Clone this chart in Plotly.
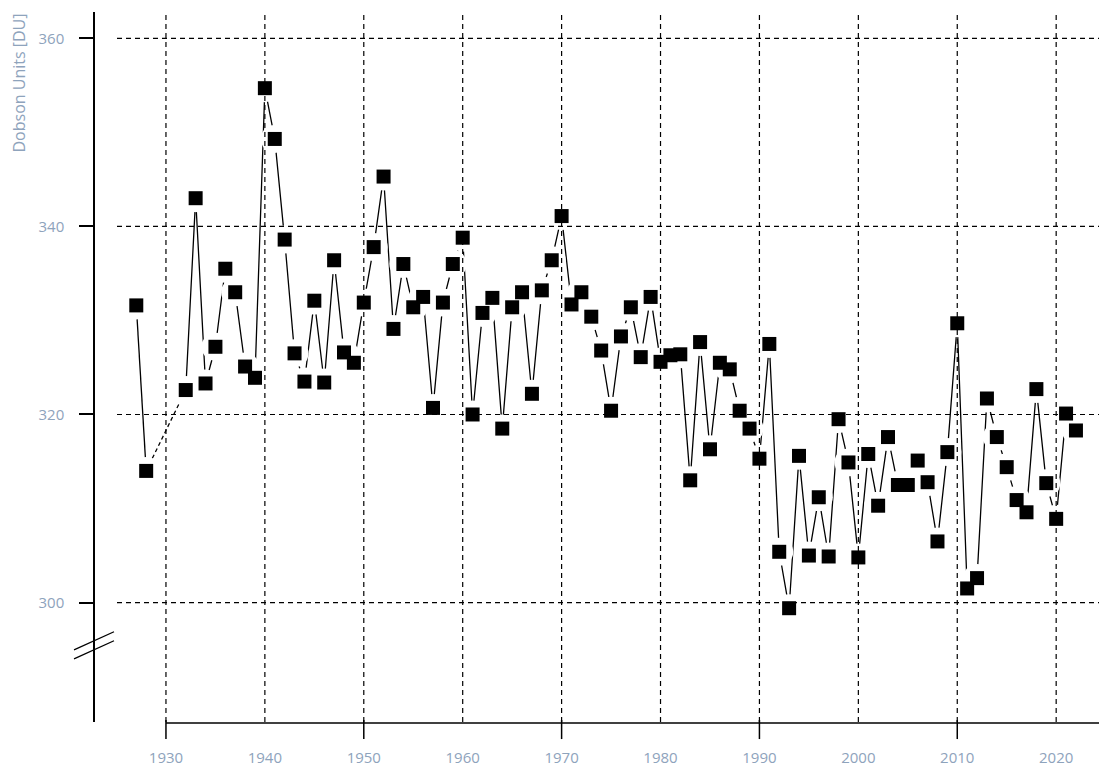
import plotly.graph_objects as go

# ---- data ----
years = [1927, 1928,
         1932, 1933, 1934, 1935, 1936, 1937, 1938, 1939,
         1940, 1941, 1942, 1943, 1944, 1945, 1946, 1947, 1948, 1949,
         1950, 1951, 1952, 1953, 1954, 1955, 1956, 1957, 1958, 1959,
         1960, 1961, 1962, 1963, 1964, 1965, 1966, 1967, 1968, 1969,
         1970, 1971, 1972, 1973, 1974, 1975, 1976, 1977, 1978, 1979,
         1980, 1981, 1982, 1983, 1984, 1985, 1986, 1987, 1988, 1989,
         1990, 1991, 1992, 1993, 1994, 1995, 1996, 1997, 1998, 1999,
         2000, 2001, 2002, 2003, 2004, 2005, 2006, 2007, 2008, 2009,
         2010, 2011, 2012, 2013, 2014, 2015, 2016, 2017, 2018, 2019,
         2020, 2021, 2022]
ozone = [331.6, 314.0,
         322.6, 343.0, 323.3, 327.2, 335.5, 333.0, 325.1, 323.9,
         354.7, 349.3, 338.6, 326.5, 323.5, 332.1, 323.4, 336.4, 326.6, 325.5,
         331.9, 337.8, 345.3, 329.1, 336.0, 331.4, 332.5, 320.7, 331.9, 336.0,
         338.8, 320.0, 330.8, 332.4, 318.5, 331.4, 333.0, 322.2, 333.2, 336.4,
         341.1, 331.7, 333.0, 330.4, 326.8, 320.4, 328.3, 331.4, 326.1, 332.5,
         325.6, 326.3, 326.4, 313.0, 327.7, 316.3, 325.5, 324.8, 320.4, 318.5,
         315.3, 327.5, 305.4, 299.4, 315.6, 305.0, 311.2, 304.9, 319.5, 314.9,
         304.8, 315.8, 310.3, 317.6, 312.5, 312.5, 315.1, 312.8, 306.5, 316.0,
         329.7, 301.5, 302.6, 321.7, 317.6, 314.4, 310.9, 309.6, 322.7, 312.7,
         308.9, 320.1, 318.3]

x_ticks = [1930, 1940, 1950, 1960, 1970, 1980, 1990, 2000, 2010, 2020]
x_tick_labels = [str(v) for v in x_ticks]
x_major_ticks = [1930, 1950, 1970, 1990, 2010]
y_ticks = [300, 320, 340, 360]
y_tick_labels = [str(v) for v in y_ticks]
y_title = "Dobson Units [DU]"

x_range = [1925.05, 2024.33]
y_range = [287.3, 362.8]

label_color = "#8ea3bc"
font_family = "Open Sans, Segoe UI, sans-serif"

# split into runs of consecutive years; dashed joins across missing years
solid_x, solid_y, gap_x, gap_y = [], [], [], []
for i, (yr, v) in enumerate(zip(years, ozone)):
    if i > 0 and yr - years[i - 1] > 1:
        solid_x.append(None)
        solid_y.append(None)
        gap_x += [years[i - 1], yr, None]
        gap_y += [ozone[i - 1], v, None]
    solid_x.append(yr)
    solid_y.append(v)

fig = go.Figure()
fig.add_trace(go.Scatter(x=solid_x, y=solid_y, mode="lines",
                         line=dict(color="black", width=1.3),
                         connectgaps=False, hoverinfo="skip", showlegend=False))
fig.add_trace(go.Scatter(x=gap_x, y=gap_y, mode="lines",
                         line=dict(color="black", width=1.3, dash="4px,3px"),
                         hoverinfo="skip", showlegend=False))
# white halos to open a gap between lines and points
fig.add_trace(go.Scatter(x=years, y=ozone, mode="markers",
                         marker=dict(symbol="circle", size=28, color="white",
                                     line=dict(width=0)),
                         hoverinfo="skip", showlegend=False))
fig.add_trace(go.Scatter(x=years, y=ozone, mode="markers",
                         marker=dict(symbol="square", size=14, color="black",
                                     line=dict(width=0)),
                         showlegend=False))

W, H = 1099, 767
ml = 80
plot_w = W - ml
K = 1.0072  # small vertical stretch


def vy(p):
    return 12 + (p - 12) * K


plot_top, plot_bot = 12, vy(720)
plot_h = plot_bot - plot_top
dom0 = (117 - ml) / plot_w
ypos = (94 - ml) / plot_w


def px_x(p):
    return (p - ml) / plot_w


def px_y(p):
    return (plot_bot - vy(p)) / plot_h


grid = dict(color="black", width=1.2, dash="5px,4px")
shapes = []
for xv in x_ticks:
    shapes.append(dict(type="line", xref="x", yref="y domain", x0=xv, x1=xv,
                       y0=0, y1=1, line=grid, layer="above"))
for yv in y_ticks:
    shapes.append(dict(type="line", xref="x domain", yref="y", x0=0, x1=1,
                       y0=yv, y1=yv, line=grid, layer="above"))
# x axis line starting at first tick
shapes.append(dict(type="line", xref="x", yref="paper", x0=x_ticks[0], x1=x_range[1],
                   y0=px_y(721), y1=px_y(721), line=dict(color="black", width=1.5)))
for xv in x_major_ticks:
    shapes.append(dict(type="line", xref="x", yref="paper", x0=xv, x1=xv,
                       y0=px_y(718), y1=px_y(737), line=dict(color="black", width=1.5)))
# axis break marks
for dy in (0, -9):
    shapes.append(dict(type="line", xref="paper", yref="paper",
                       x0=px_x(74), x1=px_x(114),
                       y0=px_y(657 + dy), y1=px_y(639 + dy),
                       line=dict(color="black", width=1.3)))

fig.update_layout(
    width=W, height=H,
    margin=dict(l=ml, r=0, t=plot_top, b=H - plot_bot, pad=0),
    paper_bgcolor="white", plot_bgcolor="white",
    font=dict(family=font_family, size=15, color=label_color),
    xaxis=dict(domain=[dom0, 1], range=x_range, tickvals=x_ticks,
               ticktext=x_tick_labels, showgrid=False, zeroline=False,
               showline=False, ticks="", ticklabelstandoff=25,
               tickfont=dict(size=15, color=label_color)),
    yaxis=dict(range=y_range, anchor="free", position=ypos, tickvals=y_ticks,
               ticktext=y_tick_labels, showgrid=False, zeroline=False,
               showline=True, linecolor="black", linewidth=1.5,
               ticks="outside", ticklen=14, tickcolor="black", tickwidth=1.5,
               ticklabelstandoff=12, tickfont=dict(size=15, color=label_color)),
    shapes=shapes,
    annotations=[dict(text=y_title, textangle=-90, xref="paper", yref="paper",
                      x=px_x(18), y=1.0, xanchor="center", yanchor="top",
                      showarrow=False, font=dict(size=16, color=label_color))],
)

fig.write_html(
    "out.html",
    config={"displayModeBar": False},
    post_script="document.body.style.margin='0';document.body.style.overflow='hidden';",
)
